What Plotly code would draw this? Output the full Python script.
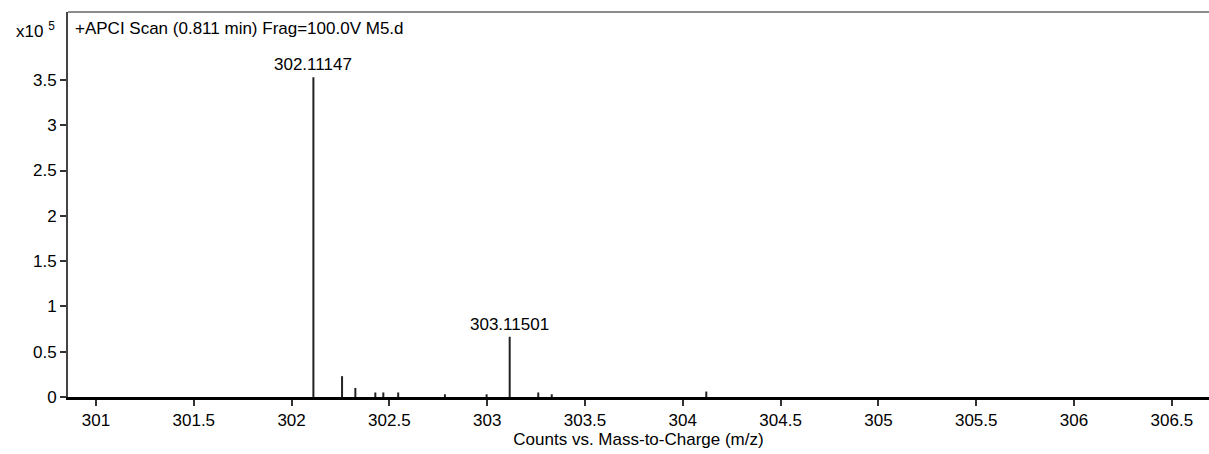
import plotly.graph_objects as go

# Data
mz = [302.11147, 302.258, 302.326, 302.428, 302.469, 302.545, 302.784,
      302.997, 303.11501, 303.261, 303.330, 304.120]
counts = [353000, 23000, 10000, 5000, 5000, 5000, 3000,
          3000, 66500, 5000, 3000, 6000]
labeled_peaks = ["302.11147", "303.11501"]

x_ticks = [301, 301.5, 302, 302.5, 303, 303.5, 304, 304.5, 305, 305.5, 306, 306.5]
x_tick_text = ["301", "301.5", "302", "302.5", "303", "303.5", "304",
               "304.5", "305", "305.5", "306", "306.5"]
y_ticks = [0, 50000, 100000, 150000, 200000, 250000, 300000, 350000]
y_tick_text = ["0", "0.5", "1", "1.5", "2", "2.5", "3", "3.5"]

title_text = "+APCI Scan (0.811 min) Frag=100.0V M5.d"
x_title = "Counts vs. Mass-to-Charge (m/z)"

FONT = "Liberation Sans, Arial, sans-serif"

# stick spectrum: one vertical segment per peak, built from the data arrays
seg_x, seg_y = [], []
for m, c in zip(mz, counts):
    seg_x += [m, m, None]
    seg_y += [0, c, None]

fig = go.Figure()
fig.add_trace(go.Scatter(
    x=seg_x, y=seg_y, mode="lines",
    line=dict(color="#222", width=2),
    hoverinfo="skip",
))

for lab in labeled_peaks:
    v = float(lab)
    i = min(range(len(mz)), key=lambda k: abs(mz[k] - v))
    fig.add_annotation(x=mz[i], y=counts[i], text=lab, showarrow=False,
                       xanchor="center", yanchor="bottom", yshift=1,
                       font=dict(family=FONT, size=17, color="#000"))

fig.add_annotation(xref="paper", yref="paper", x=0.0044, y=0.958,
                   text=title_text, showarrow=False, xanchor="left",
                   yanchor="middle", font=dict(family=FONT, size=17, color="#000"))
fig.add_annotation(xref="paper", yref="paper", x=-0.047, y=0.953,
                   text="x10 <sup>5</sup>", showarrow=False, xanchor="left",
                   yanchor="middle", font=dict(family=FONT, size=17, color="#000"))

# top border line
fig.add_shape(type="line", xref="paper", yref="paper", x0=0, x1=1, y0=1, y1=1,
              line=dict(color="#666", width=1.5))

fig.update_layout(
    width=1209, height=454,
    margin=dict(l=68, r=0, t=12, b=57),
    paper_bgcolor="white", plot_bgcolor="white",
    showlegend=False,
    font=dict(family=FONT, size=17, color="#000"),
    xaxis=dict(
        range=[300.857, 306.69], tickvals=x_ticks, ticktext=x_tick_text,
        ticks="outside", ticklen=6, tickwidth=1.5, tickcolor="#333",
        showline=True, linecolor="#000", linewidth=3,
        showgrid=False, zeroline=False,
        title=dict(text=x_title, standoff=4, font=dict(family=FONT, size=17, color="#000")),
        tickfont=dict(family=FONT, size=17, color="#000"),
    ),
    yaxis=dict(
        range=[0, 425000], tickvals=y_ticks, ticktext=y_tick_text,
        ticks="outside", ticklen=6, tickwidth=1.5, tickcolor="#333",
        showline=True, linecolor="#444", linewidth=2,
        showgrid=False, zeroline=False,
        tickfont=dict(family=FONT, size=17, color="#000"),
    ),
)

fig.write_html(
    "out.html",
    config={"displayModeBar": False},
    post_script="document.body.style.margin='0';document.body.style.overflow='hidden';",
)
